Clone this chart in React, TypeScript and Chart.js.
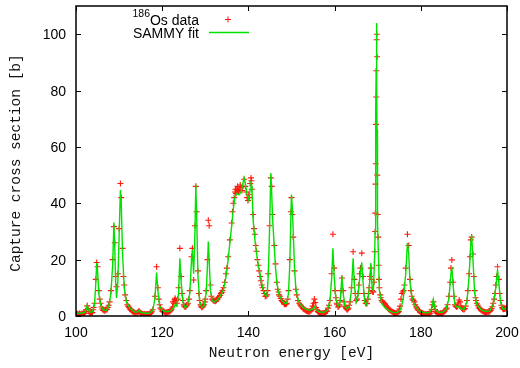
import React, { useEffect, useRef } from 'react';
import { Chart, registerables } from 'chart.js';
Chart.register(...registerables);

// Neutron energy grid (eV)
const energies = [
  100.0, 101.0, 102.0, 102.4, 102.6, 102.8, 103.2, 103.8, 104.3, 104.6, 104.8, 105.0, 105.3, 105.7, 106.3, 107.0,
  107.6, 108.1, 108.5, 108.8, 109.0, 109.2, 109.4, 109.7, 110.0, 110.3, 110.5, 110.8, 111.2, 111.7, 112.5, 113.5,
  114.2, 114.6, 115.0, 116.0, 117.0, 117.8, 118.3, 118.7, 119.0, 119.4, 120.0, 121.0, 122.0, 122.7, 123.0, 123.4,
  123.8, 124.1, 124.4, 124.8, 125.3, 125.8, 126.4, 126.8, 127.0, 127.3, 127.6, 127.8, 128.0, 128.3, 128.7, 129.2,
  129.7, 130.2, 130.5, 130.7, 130.9, 131.2, 131.6, 132.2, 133.0, 133.6, 134.2, 134.8, 135.3, 135.7, 136.1, 136.5,
  136.9, 137.3, 137.8, 138.3, 138.7, 139.0, 139.3, 139.7, 140.1, 140.4, 140.6, 140.8, 141.1, 141.5, 141.9, 142.3,
  142.7, 143.1, 143.5, 143.9, 144.3, 144.6, 144.9, 145.2, 145.4, 145.6, 146.0, 146.3, 146.6, 147.1, 147.7, 148.4,
  148.9, 149.3, 149.6, 149.85, 150.0, 150.2, 150.4, 150.7, 151.0, 151.5, 152.0, 152.7, 153.5, 154.3, 154.9, 155.3,
  155.7, 156.5, 157.5, 158.3, 158.9, 159.3, 159.6, 159.9, 160.3, 160.8, 161.3, 161.7, 162.0, 162.4, 162.9, 163.4,
  163.9, 164.3, 164.6, 165.0, 165.4, 165.8, 166.3, 166.6, 167.0, 167.4, 167.7, 168.0, 168.4, 168.7, 169.0, 169.3,
  169.4, 169.45, 169.5, 169.55, 169.6, 169.65, 169.7, 169.75, 169.8, 169.85, 169.9, 170.0, 170.1, 170.4, 170.9, 171.5,
  172.5, 173.5, 174.5, 175.2, 175.6, 176.0, 176.5, 176.9, 177.2, 177.5, 177.9, 178.5, 179.3, 180.0, 181.0, 182.0,
  182.5, 182.9, 183.3, 184.0, 185.0, 185.8, 186.5, 187.0, 187.2, 187.5, 187.9, 188.5, 188.9, 189.3, 190.0, 190.7,
  191.2, 191.6, 191.8, 192.1, 192.5, 193.0, 194.0, 195.0, 196.0, 196.8, 197.4, 197.8, 198.1, 198.5, 199.0, 199.5,
  200.0,
];

// 186Os measured capture cross section (b), on the grid above
const osData = [
  0.7, 0.6, 1.0, 2.3, 3.6, 2.6, 1.0, 1.2, 4.5, 13, 19, 17.5, 9, 4.5, 2.0, 2.2,
  3.8, 9, 20, 31.7, 26, 14, 10.4, 15, 31, 47, 42, 24, 11, 5.5, 2.5, 1.2,
  1.0, 1.8, 1.0, 0.6, 0.7, 2.2, 7, 17.5, 10, 4, 1.7, 1.2, 2.0, 4.5, 6.3, 4.5,
  10, 24, 14, 5.5, 3.2, 4, 9, 21, 24, 12.8, 32, 46, 37, 16, 5.5, 3,
  4, 9, 20, 34, 32, 11, 6, 5.5, 6.5, 8, 10, 15, 21, 27, 33, 40,
  44, 45, 44.5, 45.5, 46, 48.5, 46, 42, 43, 47, 49, 45, 36, 29, 23, 18,
  14, 11, 9, 7, 7.5, 15, 32, 49, 46, 36, 25, 18.5, 12, 7.5, 5.5, 4.2,
  4.5, 9, 20, 37, 42, 36, 28, 16, 9.5, 5.5, 4.0, 2.6, 1.8, 1.7, 3.5, 6,
  3, 1.1, 1.0, 1.8, 5.5, 15, 29, 17, 6.5, 3.2, 5.5, 13.5, 9, 3.5, 2.2, 3.8,
  10, 22.8, 13, 5.5, 8, 15, 22.3, 14, 5.5, 4.5, 6, 10, 17, 9, 8.5, 22.8,
  30, 36.5, 46.8, 54, 68, 77.7, 87, 98, 100, 92, 50, 36, 28, 10, 5.5, 4.5,
  2.5, 1.4, 1.0, 3.5, 8, 9, 17, 29, 25, 13, 7, 5, 2.2, 1.2, 0.7, 0.8,
  2.2, 5, 2.3, 1.0, 1.1, 2.4, 7, 17, 19.9, 12, 4, 3.5, 5.7, 3.5, 2.2, 5.5,
  15, 27, 28, 22, 9, 4.5, 2.0, 1.3, 1.6, 4.5, 11, 17.5, 13, 5.5, 2.6, 2.8,
  3,
];

// additional measured points between the grid energies (eV)
const extraEnergies = [
  100.2, 100.4, 100.6, 100.8, 101.2, 101.4, 101.6, 101.8, 102.2, 103.0, 103.4, 103.6, 104.0, 104.1,
  105.5, 105.9, 106.1, 106.5, 106.7, 106.9, 107.2, 107.4, 107.8,
  111.0, 111.4, 111.9, 112.1, 112.3, 112.7, 112.9, 113.1, 113.3, 113.7, 113.9, 114.4, 114.8, 115.2, 115.4,
  115.6, 115.8, 116.2, 116.4, 116.6, 116.8, 117.2, 117.4, 117.6,
  119.2, 119.6, 119.8, 120.2, 120.4, 120.6, 120.8, 121.2, 121.4, 121.6, 121.8, 122.2, 122.4, 122.5, 122.9,
  123.2, 123.6, 124.6, 125.0, 125.1, 125.5, 125.6, 126.0, 126.2,
  128.5, 128.9, 129.0, 129.4, 129.5, 129.9, 130.0, 131.4, 131.8, 132.0, 132.4, 132.6, 132.8, 133.2, 133.4,
  133.8, 134.0, 134.5, 135.0, 136.3, 136.7, 137.0, 137.1, 137.5, 137.6, 138.0, 138.1, 138.5, 139.5, 139.9,
  140.2, 140.7, 141.3, 141.7, 142.1, 142.5, 142.9, 143.3, 143.7, 144.1, 144.45,
  146.8, 147.0, 147.3, 147.5, 147.9, 148.1, 148.3, 148.6, 148.8, 149.1,
  151.2, 151.8, 152.2, 152.4, 152.9, 153.1, 153.3, 153.7, 153.9, 154.1, 154.5, 154.7, 155.1, 155.5, 155.9,
  156.1, 156.3, 156.7, 156.9, 157.1, 157.3, 157.7, 157.9, 158.1, 158.5, 158.7,
  160.1, 160.5, 160.6, 161.0, 161.1, 161.5, 162.2, 162.6, 162.7, 163.1, 163.2, 163.6,
  164.8, 165.2, 165.6, 166.0, 166.8, 167.2, 167.5, 167.85, 168.2, 168.55, 168.85, 169.15,
  170.2, 170.3, 170.6, 170.7, 171.1, 171.3, 171.7, 171.9, 172.1, 172.3, 172.7, 172.9, 173.1, 173.3, 173.7,
  173.9, 174.1, 174.3, 174.7, 174.9, 175.0, 175.4, 175.8, 176.2,
  177.7, 178.1, 178.3, 178.7, 178.9, 179.1, 179.5, 179.7, 179.9, 180.2, 180.4, 180.6, 180.8, 181.2, 181.4,
  181.6, 181.8, 182.2, 182.35, 182.7, 183.1, 183.5, 183.7, 183.9, 184.2, 184.4, 184.6, 184.8, 185.2, 185.4,
  185.6, 186.0, 186.2, 186.8,
  187.7, 188.1, 188.3, 188.7, 189.1, 189.5, 189.7, 190.2, 190.4, 190.9, 191.4,
  192.3, 192.7, 192.8, 193.2, 193.4, 193.6, 193.8, 194.2, 194.4, 194.6, 194.8, 195.2, 195.4, 195.6, 195.8,
  196.2, 196.4, 196.6, 197.0, 197.2, 197.6, 198.3, 198.7, 198.9, 199.2, 199.4, 199.7, 199.9,
];
const extraData = [
  0.5, 0.8, 0.5, 0.9, 0.6, 0.9, 0.7, 1.1, 1.6, 1.6, 1.0, 1.3, 2.2, 3,
  6, 3.2, 2.5, 2.1, 1.8, 2.3, 2.4, 3.0, 5,
  14, 7.5, 4, 3.5, 3, 2.2, 2.0, 1.6, 1.5, 1.1, 0.9, 1.4, 1.5, 0.8, 0.7,
  0.5, 0.8, 0.6, 0.5, 0.7, 0.6, 0.9, 1.1, 1.5,
  6, 2.8, 2.2, 1.5, 1.6, 1.3, 1.1, 1.3, 1.5, 1.4, 1.7, 2.4, 3.2, 5, 5.8,
  5.5, 6, 8, 4, 3.5, 3.3, 3.8, 4.5, 6,
  8, 4, 3.5, 3.3, 3.6, 5, 6, 7, 5.6, 5.3, 5.2, 5.6, 6, 6.8, 7.3,
  8.3, 9, 12, 17, 37, 42, 45, 43.5, 46, 44, 45, 46.5, 44.5, 44, 41,
  42, 48, 31, 25, 20, 16, 12.5, 10, 8, 7, 9,
  9.5, 8.5, 7, 6.2, 5.2, 4.8, 4.4, 4.2, 4.3, 6,
  7.5, 4.5, 3.6, 3.2, 2.4, 2.2, 2.0, 1.7, 1.6, 1.5, 1.9, 2.4, 4.5, 4.8, 2.2,
  1.6, 1.3, 1.0, 0.9, 1.0, 1.0, 1.1, 1.4, 1.6, 2.8, 3.8,
  9, 4.5, 4, 3.5, 4, 9, 5, 3, 2.6, 2.4, 2.8, 5,
  8, 6, 11, 17, 8, 4.5, 4.4, 8, 14, 13, 8.6, 12,
  18, 13, 7.5, 6.5, 5, 4.8, 4.2, 3.8, 3.3, 2.9, 2.2, 2.0, 1.8, 1.6, 1.2,
  1.1, 1.0, 0.9, 1.3, 1.6, 2.5, 6, 8.5, 11,
  9, 6, 5.5, 4, 3.3, 2.8, 2.0, 1.8, 1.4, 1.1, 1.0, 0.8, 0.6, 0.6, 0.5,
  0.7, 0.6, 1.0, 1.6, 4, 3.5, 1.5, 1.2, 0.9, 0.8, 0.7, 1.0, 0.9, 1.2, 1.5,
  1.8, 2.8, 4, 12,
  7, 3.5, 3.2, 4.6, 5, 2.8, 2.5, 2.6, 3.5, 9, 21,
  14, 6.5, 5.5, 3.8, 3.2, 2.7, 2.4, 1.9, 1.7, 1.5, 1.4, 1.2, 1.3, 1.5, 1.4,
  2.0, 2.6, 3.3, 6, 8, 14, 8, 3.8, 3.0, 2.4, 2.5, 2.6, 2.9,
];

// SAMMY fit (b), on the grid above
const sammyFit = [
  1.0, 1.0, 1.3, 2.5, 3.9, 2.5, 1.3, 1.5, 4, 12, 18.8, 16, 8, 4, 2.2, 2.0,
  3.5, 8, 18, 33.2, 24, 12, 6.4, 12, 28, 44.7, 40, 22, 10, 5, 2.8, 1.5,
  1.3, 2.0, 1.3, 1.0, 1.0, 2, 6, 15.4, 9, 3.5, 2, 1.5, 1.8, 3, 4, 3.5,
  8, 20.5, 12, 5, 3, 3.5, 8, 20, 23.4, 15, 30, 46.5, 35, 14, 5, 3,
  3.5, 8, 18, 26.4, 20, 9, 5.5, 5, 6, 7.5, 9.2, 14, 20, 26, 31.7, 38,
  42.5, 43.5, 43, 44, 47, 49, 47, 43, 41, 45, 48, 46, 34, 27, 22, 18,
  15, 11.5, 9, 7.4, 7, 14, 30, 50.7, 44, 35, 24.6, 17, 11.7, 7.5, 5.7, 4.5,
  4.5, 8, 18, 35, 43, 38, 30, 17, 10, 6, 4.2, 3, 2.3, 2, 2.5, 3.3,
  2.2, 1.4, 1.3, 2, 5, 13, 24, 14, 6, 3.5, 5, 14.2, 8, 3.5, 2.5, 3.5,
  9, 20.5, 11, 5, 7, 13, 19, 12, 5, 4, 5.6, 9, 18.8, 10, 9, 22,
  30, 38, 48, 58, 72, 88, 104, 96, 82, 66, 50, 34, 25, 9, 4.6, 3.3,
  2.0, 1.3, 1.2, 2, 4, 7, 15, 26, 22, 12, 7, 4, 2.3, 1.5, 1.1, 1.2,
  2.5, 5.9, 2.5, 1.3, 1.3, 2.2, 6, 15, 17.5, 11, 4, 3, 3.5, 2.5, 2.3, 5,
  14, 26, 28.7, 20, 8, 4, 2.2, 1.6, 1.8, 4, 10, 16.3, 12, 5, 2.5, 2.5,
  3,
];

const xTicks = [100, 120, 140, 160, 180, 200];
const yTicks = [0, 20, 40, 60, 80, 100];
const xTitle = 'Neutron energy [eV]';
const yTitle = 'Capture cross section [b]';

const SANS = '"Liberation Sans", Arial, Helvetica, sans-serif';
const MONO = '"Liberation Mono", "Courier New", monospace';
const RED = 'rgb(255,24,12)';
const GREEN = 'rgb(0,225,0)';

const framePlugin = {
  id: 'gnuFrame',
  afterDraw(chart: any) {
    const { ctx, chartArea: a, scales } = chart;
    const xs = scales.x;
    const ys = scales.y;
    ctx.save();
    ctx.strokeStyle = '#000';
    ctx.lineWidth = 1;
    const tl = 5;
    for (const t of xTicks) {
      const x = Math.round(xs.getPixelForValue(t)) + 0.5;
      ctx.beginPath();
      ctx.moveTo(x, a.bottom);
      ctx.lineTo(x, a.bottom - tl);
      ctx.moveTo(x, a.top);
      ctx.lineTo(x, a.top + tl);
      ctx.stroke();
    }
    for (const t of yTicks) {
      const y = Math.round(ys.getPixelForValue(t)) + 0.5;
      ctx.beginPath();
      ctx.moveTo(a.left, y);
      ctx.lineTo(a.left + tl, y);
      ctx.moveTo(a.right, y);
      ctx.lineTo(a.right - tl, y);
      ctx.stroke();
    }
    ctx.lineWidth = 1.5;
    ctx.strokeRect(a.left, a.top, a.right - a.left, a.bottom - a.top);

    ctx.fillStyle = '#000';
    ctx.font = '14px ' + SANS;
    ctx.textAlign = 'center';
    ctx.textBaseline = 'alphabetic';
    for (const t of xTicks) {
      ctx.fillText(String(t), xs.getPixelForValue(t), a.bottom + 21);
    }
    ctx.textAlign = 'right';
    for (const t of yTicks) {
      ctx.fillText(String(t), a.left - 10, ys.getPixelForValue(t) + 5);
    }

    ctx.fillStyle = '#111';
    ctx.font = '14.5px ' + MONO;
    ctx.textAlign = 'center';
    ctx.fillText(xTitle, (a.left + a.right) / 2, a.bottom + 41);
    ctx.save();
    ctx.translate(20, 163);
    ctx.rotate(-Math.PI / 2);
    ctx.fillText(yTitle, 0, 0);
    ctx.restore();

    // legend
    ctx.fillStyle = '#000';
    ctx.textAlign = 'right';
    ctx.font = '14px ' + SANS;
    const rx = 199;
    const w1 = ctx.measureText('Os data').width;
    ctx.fillText('Os data', rx, 25);
    ctx.font = '10.5px ' + SANS;
    ctx.fillText('186', rx - w1, 17);
    ctx.font = '14px ' + SANS;
    ctx.fillText('SAMMY fit', rx, 37.5);

    ctx.strokeStyle = RED;
    ctx.lineWidth = 1;
    ctx.beginPath();
    ctx.moveTo(225, 19.5);
    ctx.lineTo(231, 19.5);
    ctx.moveTo(228, 16.5);
    ctx.lineTo(228, 22.5);
    ctx.stroke();

    ctx.strokeStyle = GREEN;
    ctx.lineWidth = 1.4;
    ctx.beginPath();
    ctx.moveTo(209, 32.5);
    ctx.lineTo(249, 32.5);
    ctx.stroke();
    ctx.restore();
  },
};

export default function App() {
  const ref = useRef<HTMLCanvasElement | null>(null);
  useEffect(() => {
    if (!ref.current) return;
    const dataPoints = energies
      .map((e, i) => ({ x: e, y: osData[i] }))
      .concat(extraEnergies.map((e, i) => ({ x: e, y: extraData[i] })));
    const chart = new Chart(ref.current, {
      type: 'scatter',
      data: {
        datasets: [
          {
            label: 'SAMMY fit',
            data: energies.map((e, i) => ({ x: e, y: sammyFit[i] })),
            showLine: true,
            borderColor: GREEN,
            backgroundColor: GREEN,
            borderWidth: 1.4,
            pointRadius: 0,
            tension: 0,
            order: 1,
          },
          {
            label: '186Os data',
            data: dataPoints,
            showLine: false,
            pointStyle: 'cross',
            pointRadius: 3,
            borderColor: RED,
            backgroundColor: RED,
            borderWidth: 1.1,
            order: 2,
          },
        ],
      },
      options: {
        responsive: false,
        animation: false,
        events: [],
        layout: { padding: { left: 76, right: 13, top: 6, bottom: 52 } },
        scales: {
          x: { type: 'linear', min: 100, max: 200, display: false },
          y: { type: 'linear', min: 0, max: 110, display: false },
        },
        plugins: { legend: { display: false }, tooltip: { enabled: false } },
      },
      plugins: [framePlugin],
    } as any);
    return () => chart.destroy();
  }, []);
  return (
    <div style={{ position: 'fixed', left: 0, top: 0, width: 520, height: 368, background: '#fff' }}>
      <canvas ref={ref} width={520} height={368} style={{ display: 'block', width: 520, height: 368 }} />
    </div>
  );
}
